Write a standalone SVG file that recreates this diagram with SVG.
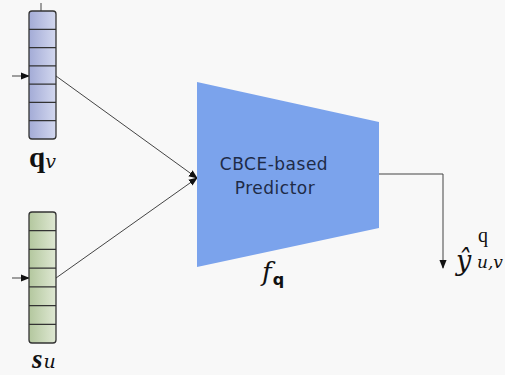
<svg xmlns="http://www.w3.org/2000/svg" width="505" height="375" viewBox="0 0 505 375">
<defs>
<linearGradient id="gq" x1="0" y1="0" x2="1" y2="0"><stop offset="0" stop-color="#a3abd6"/><stop offset="1" stop-color="#d3d8ef"/></linearGradient>
<linearGradient id="gs" x1="0" y1="0" x2="1" y2="0"><stop offset="0" stop-color="#b3c79e"/><stop offset="1" stop-color="#dfe8d3"/></linearGradient>
<marker id="ah" viewBox="0 0 10 10" refX="9" refY="5" markerWidth="9" markerHeight="9" markerUnits="userSpaceOnUse" orient="auto"><path d="M0,1 L10,5 L0,9 z" fill="#111"/></marker>
<style>
.bar{stroke:#333;stroke-width:1.3}
.cell{stroke:#333;stroke-width:1.2}
.ln{stroke:#444;stroke-width:1;fill:none}
.lbl{font-family:"Liberation Serif",serif;fill:#111}
.mi{font-family:"DejaVu Serif",serif;font-style:italic;fill:#111}
.tx{font-family:"DejaVu Sans","Noto Sans",sans-serif;font-size:17px;letter-spacing:0.5px;fill:#1e2b47}
</style>
</defs>
<rect width="505" height="375" fill="#f8f8f8"/>
<g id="connectors">
<line class="ln" x1="41" y1="3" x2="41" y2="11"/>
<line class="ln" x1="12" y1="76" x2="29" y2="76" marker-end="url(#ah)"/>
<line class="ln" x1="12" y1="278" x2="29" y2="278" marker-end="url(#ah)"/>
<line class="ln" x1="56" y1="76" x2="197" y2="178" marker-end="url(#ah)"/>
<line class="ln" x1="56" y1="278" x2="197" y2="178" marker-end="url(#ah)"/>
<polyline class="ln" points="379,174 443,174 443,268" marker-end="url(#ah)"/>
</g>
<g id="qv">
<rect class="bar" x="29" y="11" width="27" height="128" rx="3" fill="url(#gq)"/>
<path class="cell" d="M29,29.3H56M29,47.6H56M29,65.9H56M29,84.1H56M29,102.4H56M29,120.7H56"/>
<text class="lbl" x="29" y="167" font-size="29" font-weight="bold">q<tspan class="mi" font-size="19" font-weight="normal" dy="1">v</tspan></text>
</g>
<g id="su">
<rect class="bar" x="29" y="212" width="27" height="131" rx="3" fill="url(#gs)"/>
<path class="cell" d="M29,230.7H56M29,249.4H56M29,268.1H56M29,286.9H56M29,305.6H56M29,324.3H56"/>
<text class="lbl" x="32" y="368" font-size="27" font-weight="bold" font-style="italic">s<tspan class="mi" font-size="19" font-weight="normal" dx="1">u</tspan></text>
</g>
<g id="predictor">
<polygon points="197,82 379,122 379,228 197,267" fill="#7ba3ec"/>
<text class="tx" x="274" y="170" text-anchor="middle">CBCE-based</text>
<text class="tx" x="275" y="194" text-anchor="middle">Predictor</text>
<text class="mi" x="262" y="281" font-size="26">f<tspan font-family="DejaVu Sans,sans-serif" font-style="normal" font-weight="bold" font-size="16" dy="4" dx="1">q</tspan></text>
</g>
<g id="output">
<text class="mi" x="456" y="270" font-size="27">ŷ</text>
<text class="lbl" x="478" y="242" font-size="20" font-family="DejaVu Sans,sans-serif">q</text>
<text class="mi" x="477" y="268" font-size="17">u,v</text>
</g>
</svg>
